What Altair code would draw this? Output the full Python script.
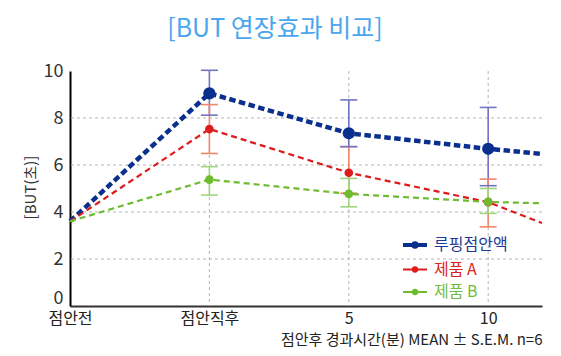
import json
import altair as alt
import pandas as pd

# ---- data ----
categories = ["점안전", "점안직후", "5", "10"]
x_pos = [0, 1, 2, 3]
x_edge = 3.386          # right edge of the plot, where the lines are cut
series = ["루핑점안액", "제품 A", "제품 B"]

start_vals = [3.6, 3.6, 3.6]            # 점안전 (all three)
mean_lp = [9.05, 7.35, 6.69]
mean_a = [7.53, 5.67, 4.42]
mean_b = [5.38, 4.77, 4.43]
upper_lp = [10.03, 8.77, 8.45]
lower_lp = [8.12, 6.78, 5.12]
upper_a = [8.57, 6.78, 5.40]
lower_a = [6.49, 4.80, 3.37]
upper_b = [5.93, 5.43, 5.00]
lower_b = [4.72, 4.22, 3.94]
edge_vals = [6.47, 3.53, 4.37]          # value where each line leaves the plot

y_ticks = [0, 2, 4, 6, 8, 10]
y_grid = [2, 4, 6, 8]
x_grid = [1, 2, 3]

colors = ["#0b2f8f", "#dd1c1c", "#6dbb2e"]
err_colors = ["#7474c4", "#f0866a", "#9fd57c"]
legend_text_colors = ["#1f3a96", "#dd2222", "#74bb44"]

title_text = "[BUT 연장효과 비교]"
y_title = "[BUT(초)]"
x_title = "점안후  경과시간(분)  MEAN ± S.E.M. n=6"

FONT = "Noto Sans CJK KR"

# ---- tables ----
means = [mean_lp, mean_a, mean_b]
uppers = [upper_lp, upper_a, upper_b]
lowers = [lower_lp, lower_a, lower_b]

line_rows, pt_rows = [], []
for i, s in enumerate(series):
    line_rows.append({"series": s, "x": 0, "y": start_vals[i], "o": 0})
    for j in range(3):
        line_rows.append({"series": s, "x": x_pos[j + 1], "y": means[i][j], "o": j + 1})
        pt_rows.append({"series": s, "x": x_pos[j + 1], "y": means[i][j],
                        "lo": lowers[i][j], "hi": uppers[i][j]})
    line_rows.append({"series": s, "x": x_edge, "y": edge_vals[i], "o": 4})
lines_df = pd.DataFrame(line_rows)
pts_df = pd.DataFrame(pt_rows)

xscale = alt.Scale(domain=[0, x_edge], nice=False, zero=False)
yscale = alt.Scale(domain=[0, 10], nice=False)
cscale = alt.Scale(domain=series, range=colors)
escale = alt.Scale(domain=series, range=err_colors)

label_expr = "%s[datum.value]" % json.dumps(categories, ensure_ascii=False)

x_axis = alt.Axis(values=x_pos, labelExpr=label_expr, grid=False, ticks=False, tickSize=0,
                  domainColor="#333333", domainWidth=2, labelFontSize=16, labelPadding=4,
                  labelColor="#222222", labelFlush=False, labelOverlap=False,
                  title=x_title, titleFontSize=15, titleFontWeight="normal",
                  titleColor="#222222", titleAlign="right", titleAnchor="end",
                  titleX=472, titleY=33.5, titleBaseline="middle")
y_axis = alt.Axis(values=y_ticks, grid=False, ticks=False, tickSize=0,
                  domainColor="#000000", domainWidth=2, labelFontSize=18, labelPadding=7,
                  labelColor="#333333", labelFlush=False, labelOverlap=False,
                  labelOffset={"condition": {"test": "datum.value === 0", "value": -8},
                               "value": 0},
                  title=y_title, titleFontSize=15, titleFontWeight="normal",
                  titleColor="#333333", titleAngle=-90, titleX=-40, titleY=116,
                  titleAlign="center", titleBaseline="middle")


def X(field):
    return alt.X(field, scale=xscale, axis=x_axis)


def Y(field):
    return alt.Y(field, scale=yscale, axis=y_axis)


hgrid = alt.Chart(pd.DataFrame({"v": y_grid})).mark_rule(
    color="#b5b5b5", strokeDash=[3, 3], strokeWidth=1
).encode(y=Y("v:Q"))
vgrid = alt.Chart(pd.DataFrame({"v": x_grid})).mark_rule(
    color="#b5b5b5", strokeDash=[3, 3], strokeWidth=1
).encode(x=X("v:Q"))

err = alt.Chart(pts_df).mark_rule(strokeWidth=1.6).encode(
    x=X("x:Q"), y=Y("lo:Q"), y2="hi:Q",
    stroke=alt.Stroke("series:N", scale=escale, legend=None))
cap_hi = alt.Chart(pts_df).mark_rule(strokeWidth=1.6, xOffset=-8.5, x2Offset=8.5).encode(
    x=X("x:Q"), x2="x:Q", y=Y("hi:Q"),
    stroke=alt.Stroke("series:N", scale=escale, legend=None))
cap_lo = alt.Chart(pts_df).mark_rule(strokeWidth=1.6, xOffset=-8.5, x2Offset=8.5).encode(
    x=X("x:Q"), x2="x:Q", y=Y("lo:Q"),
    stroke=alt.Stroke("series:N", scale=escale, legend=None))

lines = alt.Chart(lines_df).mark_line(strokeCap="butt").encode(
    x=X("x:Q"), y=Y("y:Q"), order="o:Q",
    color=alt.Color("series:N", scale=cscale, legend=None),
    strokeDash=alt.StrokeDash("series:N", scale=alt.Scale(domain=series,
                              range=[[6.5, 3.5], [6, 4], [6, 4]]), legend=None),
    strokeWidth=alt.StrokeWidth("series:N", scale=alt.Scale(type="ordinal", domain=series,
                                range=[4.5, 2.2, 2.2]), legend=None))

points = alt.Chart(pts_df).mark_point(filled=True, opacity=1, strokeWidth=0).encode(
    x=X("x:Q"), y=Y("y:Q"),
    color=alt.Color("series:N", scale=cscale, legend=None),
    size=alt.Size("series:N", scale=alt.Scale(type="ordinal", domain=series,
                  range=[150, 75, 75]), legend=None))

# ---- hand-made legend (inside the plot, lower right) ----
leg_layers = []
leg_y = [174, 198.5, 221]
leg_w = [4, 2, 2]
leg_dot = [55, 40, 40]
for i, s in enumerate(series):
    d = pd.DataFrame({"series": [s]})
    leg_layers.append(alt.Chart(d).mark_rule(strokeWidth=leg_w[i], color=colors[i]).encode(
        x=alt.value(333), x2=alt.value(357), y=alt.value(leg_y[i])))
    leg_layers.append(alt.Chart(d).mark_point(filled=True, opacity=1, size=leg_dot[i],
                                              color=colors[i]).encode(
        x=alt.value(345), y=alt.value(leg_y[i])))
    leg_layers.append(alt.Chart(d).mark_text(align="left", baseline="middle", fontSize=16,
                                             font=FONT, color=legend_text_colors[i]).encode(
        x=alt.value(364), y=alt.value(leg_y[i]), text="series:N"))

chart = alt.layer(hgrid, vgrid, err, cap_hi, cap_lo, lines, points, *leg_layers).properties(
    width=472, height=235,
    padding={"left": 62, "top": 63, "right": 11, "bottom": 42},
    autosize=alt.AutoSizeParams(type="none"),
    title=alt.TitleParams(title_text, fontSize=25, color="#4aa6ee", font=FONT,
                          fontWeight="normal", anchor="middle", dx=-31, offset=0,
                          baseline="alphabetic"),
).configure(font=FONT, background="white").configure_view(stroke=None)

chart.save("out.html", embed_options={"renderer": "svg", "actions": False})
